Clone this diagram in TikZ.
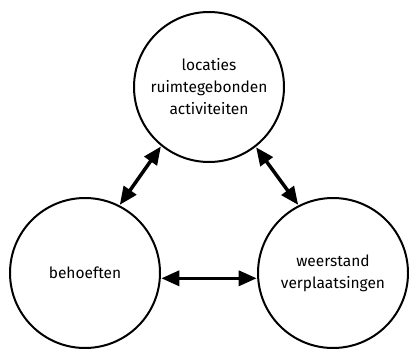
\documentclass[tikz,border=0pt]{standalone}
\usepackage{fontspec}
\setmainfont{Fira Sans}
\usetikzlibrary{arrows.meta}
\begin{document}
\begin{tikzpicture}[x=1pt,y=-1pt,
  bubble/.style={circle,draw,line width=2pt,minimum size=150pt,inner sep=0pt,align=center,
    font=\fontsize{15.5}{22}\selectfont},
  link/.style={line width=3.5pt,{Triangle[length=18pt,width=15pt]}-{Triangle[length=18pt,width=15pt]},shorten <=0.5pt,shorten >=0.5pt}]
\useasboundingbox (0,0) rectangle (409,358);
\node[bubble] (top) at (209,87) {locaties\\ruimtegebonden\\activiteiten};
\node[bubble] (left) at (85,273) {behoeften};
\node[bubble] (right) at (333,273) {\raisebox{-5pt}{\begin{tabular}{@{}c@{}}weerstand\\verplaatsingen\end{tabular}}};
\draw[link] (top.231) -- (left.63);
\draw[link] (top.308) -- (right.117);
\draw[link] (left.-4) -- (right.184);
\end{tikzpicture}
\end{document}
